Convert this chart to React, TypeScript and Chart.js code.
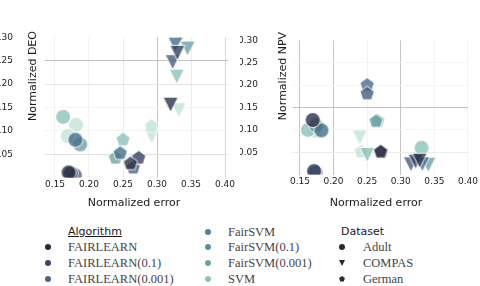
import React, { useEffect, useRef } from 'react';
import { Chart, registerables } from 'chart.js';
Chart.register(...registerables);

const ALGORITHMS = ['FAIRLEARN', 'FAIRLEARN(0.1)', 'FAIRLEARN(0.001)', 'FairSVM', 'FairSVM(0.1)', 'FairSVM(0.001)', 'SVM'];
const DATASETS = ['Adult', 'COMPAS', 'German'];
const X_TICKS = [0.15, 0.2, 0.25, 0.3, 0.35, 0.4];
const Y_TICKS = [0.05, 0.1, 0.15, 0.2, 0.25, 0.3];

// [normalized error, metric value, dataset index (0 Adult, 1 COMPAS, 2 German)]
const DEO_FAIRLEARN = [[0.170, 0.011, 0], [0.320, 0.156, 1], [0.261, 0.030, 2]];
const DEO_FAIRLEARN_01 = [[0.173, 0.009, 0], [0.330, 0.267, 1], [0.273, 0.042, 2]];
const DEO_FAIRLEARN_0001 = [[0.179, 0.005, 0], [0.323, 0.247, 1], [0.265, 0.021, 2]];
const DEO_FAIRSVM = [[0.180, 0.081, 0], [0.327, 0.285, 1], [0.246, 0.052, 2]];
const DEO_FAIRSVM_01 = [[0.187, 0.071, 0], [0.345, 0.276, 1], [0.239, 0.042, 2]];
const DEO_FAIRSVM_0001 = [[0.162, 0.130, 0], [0.329, 0.216, 1], [0.335, 0.303, 1], [0.250, 0.081, 2]];
const DEO_SVM = [[0.181, 0.113, 0], [0.169, 0.089, 0], [0.332, 0.144, 1], [0.292, 0.088, 1], [0.292, 0.110, 2]];

const NPV_FAIRLEARN = [[0.169, 0.122, 0], [0.328, 0.031, 1], [0.270, 0.051, 2]];
const NPV_FAIRLEARN_01 = [[0.171, 0.008, 0], [0.322, 0.029, 1], [0.271, 0.050, 2]];
const NPV_FAIRLEARN_0001 = [[0.173, 0.005, 0], [0.315, 0.023, 1], [0.250, 0.181, 2]];
const NPV_FAIRSVM = [[0.182, 0.099, 0], [0.332, 0.023, 1], [0.250, 0.200, 2]];
const NPV_FAIRSVM_01 = [[0.174, 0.110, 0], [0.341, 0.022, 1], [0.263, 0.119, 2]];
const NPV_FAIRSVM_0001 = [[0.162, 0.100, 0], [0.331, 0.060, 0], [0.250, 0.044, 1], [0.266, 0.120, 2]];
const NPV_SVM = [[0.172, 0.098, 0], [0.239, 0.083, 1], [0.241, 0.051, 2]];

const DEO_SERIES = [DEO_FAIRLEARN, DEO_FAIRLEARN_01, DEO_FAIRLEARN_0001, DEO_FAIRSVM, DEO_FAIRSVM_01, DEO_FAIRSVM_0001, DEO_SVM];
const NPV_SERIES = [NPV_FAIRLEARN, NPV_FAIRLEARN_01, NPV_FAIRLEARN_0001, NPV_FAIRSVM, NPV_FAIRSVM_01, NPV_FAIRSVM_0001, NPV_SVM];

const POINT_COLORS = [
  'rgba(43,49,71,0.8)',
  'rgba(53,63,96,0.8)',
  'rgba(71,93,129,0.8)',
  'rgba(70,110,136,0.8)',
  'rgba(100,154,160,0.75)',
  'rgba(136,190,181,0.75)',
  'rgba(195,226,219,0.8)',
];
const LEGEND_COLORS = ['#262b3f', '#3c4664', '#4e6280', '#5a7e95', '#5e909e', '#6ea5a4', '#8fc2bb'];

function shapePath(ctx: CanvasRenderingContext2D, shape: number, cx: number, cy: number, r: number) {
  ctx.beginPath();
  if (shape === 0) {
    ctx.arc(cx, cy, r, 0, Math.PI * 2);
  } else if (shape === 1) {
    ctx.moveTo(cx - r, cy - r);
    ctx.lineTo(cx + r, cy - r);
    ctx.lineTo(cx, cy + r);
    ctx.closePath();
  } else {
    for (let i = 0; i < 5; i++) {
      const a = -Math.PI / 2 + (i * 2 * Math.PI) / 5;
      const px = cx + r * Math.cos(a);
      const py = cy + r * Math.sin(a);
      if (i === 0) ctx.moveTo(px, py);
      else ctx.lineTo(px, py);
    }
    ctx.closePath();
  }
}

function makeMarker(shape: number, color: string, r: number) {
  const c = document.createElement('canvas');
  c.width = 20;
  c.height = 20;
  const ctx = c.getContext('2d')!;
  shapePath(ctx, shape, 10, 10, r);
  ctx.fillStyle = color;
  ctx.fill();
  ctx.strokeStyle = 'rgba(255,255,255,0.9)';
  ctx.lineWidth = 1;
  ctx.stroke();
  return c;
}

const axisTitles = {
  id: 'axisTitles',
  afterDraw(chart: any, _args: any, opts: any) {
    const ctx = chart.ctx;
    ctx.save();
    ctx.font = '11px "DejaVu Sans"';
    ctx.fillStyle = '#1a1a1a';
    ctx.textAlign = 'center';
    ctx.textBaseline = 'middle';
    ctx.fillText(opts.xTitle, opts.xX, opts.xY);
    ctx.translate(opts.yX, opts.yY);
    ctx.rotate(-Math.PI / 2);
    ctx.fillText(opts.yTitle, 0, 0);
    ctx.restore();
  },
};

type PanelProps = {
  series: number[][][];
  yTitle: string;
  xMin: number;
  xMax: number;
  yAxisWidth: number;
  labelPad: number;
  padRight: number;
  xGrid: string[];
  yGrid: string[];
  xTitleX: number;
  yTitleX: number;
};

function Panel(p: PanelProps) {
  const ref = useRef<HTMLCanvasElement>(null);
  useEffect(() => {
    const markers = POINT_COLORS.map((col) => [0, 1, 2].map((s) => makeMarker(s, col, 7.5)));
    const chart = new Chart(ref.current!, {
      type: 'scatter',
      data: {
        datasets: ALGORITHMS.map((name, i) => ({
          label: name,
          data: p.series[i].map((d) => ({ x: d[0], y: d[1], s: d[2] })),
          pointStyle: (ctx: any) => markers[i][ctx.raw ? ctx.raw.s : 0],
          pointRadius: 7.5,
          clip: 0,
        })),
      } as any,
      options: {
        animation: false,
        responsive: false,
        events: [],
        layout: { padding: { top: 4, right: p.padRight, left: 0, bottom: 0 } },
        plugins: {
          legend: { display: false },
          tooltip: { enabled: false },
          axisTitles: {
            xTitle: 'Normalized error',
            xX: p.xTitleX,
            xY: 203,
            yTitle: p.yTitle,
            yX: p.yTitleX,
            yY: 76,
          },
        } as any,
        scales: {
          x: {
            type: 'linear',
            min: p.xMin,
            max: p.xMax,
            afterBuildTicks: (s: any) => {
              s.ticks = X_TICKS.map((v) => ({ value: v }));
            },
            afterFit: (s: any) => {
              s.height = 36;
            },
            border: { display: false },
            grid: {
              drawTicks: false,
              color: (c: any) => p.xGrid[X_TICKS.indexOf(c.tick.value)] || 'rgba(0,0,0,0)',
              lineWidth: 1,
            },
            ticks: {
              padding: 2,
              color: '#222',
              font: { family: 'DejaVu Sans', size: 9 },
              callback: (v: any) => Number(v).toFixed(2),
            },
          },
          y: {
            type: 'linear',
            min: 0,
            max: 0.3,
            afterBuildTicks: (s: any) => {
              s.ticks = Y_TICKS.map((v) => ({ value: v }));
            },
            afterFit: (s: any) => {
              s.width = p.yAxisWidth;
            },
            border: { display: false },
            grid: {
              drawTicks: false,
              color: (c: any) => p.yGrid[Y_TICKS.indexOf(c.tick.value)] || 'rgba(0,0,0,0)',
              lineWidth: 1,
            },
            ticks: {
              padding: p.labelPad,
              color: '#222',
              font: { family: 'DejaVu Sans', size: 9 },
              callback: (v: any) => Number(v).toFixed(2),
            },
          },
        },
      },
      plugins: [axisTitles],
    });
    return () => chart.destroy();
  }, []);
  return <canvas ref={ref} width={240} height={215} style={{ display: 'block', width: 240, height: 215 }} />;
}

function LegendMarker({ shape, color, x, y }: { shape: number; color: string; x: number; y: number }) {
  const r = 3;
  let el: any;
  if (shape === 0) el = <circle cx={5} cy={5} r={r} fill={color} />;
  else if (shape === 1) el = <polygon points={`${5 - r},${5 - r} ${5 + r},${5 - r} 5,${5 + r}`} fill={color} />;
  else {
    const pts = [0, 1, 2, 3, 4]
      .map((i) => {
        const a = -Math.PI / 2 + (i * 2 * Math.PI) / 5;
        return `${5 + r * Math.cos(a)},${5 + r * Math.sin(a)}`;
      })
      .join(' ');
    el = <polygon points={pts} fill={color} />;
  }
  return (
    <svg width={10} height={10} style={{ position: 'absolute', left: x - 5, top: y - 5 }}>
      {el}
    </svg>
  );
}

function Label({ text, x, y, serif, underline }: { text: string; x: number; y: number; serif?: boolean; underline?: boolean }) {
  return (
    <div
      style={{
        position: 'absolute',
        left: x,
        top: y - 8,
        height: 16,
        lineHeight: '16px',
        whiteSpace: 'nowrap',
        fontFamily: serif ? '"Liberation Serif"' : '"DejaVu Sans"',
        fontSize: serif ? 12.5 : 11,
        color: serif ? '#444' : '#1a1a1a',
        textDecoration: underline ? 'underline' : 'none',
      }}
    >
      {text}
    </div>
  );
}

export default function App() {
  const rows = [247, 263, 279];
  const col2 = [232, 247, 263, 279];
  return (
    <div style={{ position: 'fixed', left: 0, top: 0, width: 480, height: 286, background: '#fff', overflow: 'hidden' }}>
      <div style={{ position: 'absolute', left: 0, top: 0 }}>
        <Panel
          series={DEO_SERIES}
          yTitle="Normalized DEO"
          xMin={0.1353}
          xMax={0.4044}
          yAxisWidth={45}
          labelPad={32}
          padRight={12}
          xGrid={['#f3f3f3', '#f3f3f3', '#ececec', '#c4c4c4', '#ececec', '#d6d6d6']}
          yGrid={['#e2e2e2', '#f3f3f3', '#f3f3f3', '#e6e6e6', '#c4c4c4', 'rgba(0,0,0,0)']}
          xTitleX={134}
          yTitleX={33}
        />
      </div>
      <div style={{ position: 'absolute', left: 240, top: 0 }}>
        <Panel
          series={NPV_SERIES}
          yTitle="Normalized NPV"
          xMin={0.1397}
          xMax={0.4003}
          yAxisWidth={53}
          labelPad={35}
          padRight={10}
          xGrid={['#c4c4c4', '#c4c4c4', '#f3f3f3', '#c4c4c4', '#f3f3f3', '#f3f3f3']}
          yGrid={['#ececec', '#f5f5f5', '#c4c4c4', '#f5f5f5', '#f5f5f5', 'rgba(0,0,0,0)']}
          xTitleX={136}
          yTitleX={43}
        />
      </div>
      <Label text="Algorithm" x={68} y={232} underline />
      {ALGORITHMS.slice(0, 3).map((a, i) => (
        <React.Fragment key={a}>
          <LegendMarker shape={0} color={LEGEND_COLORS[i]} x={48} y={rows[i]} />
          <Label text={a} x={68} y={rows[i]} serif />
        </React.Fragment>
      ))}
      {ALGORITHMS.slice(3).map((a, i) => (
        <React.Fragment key={a}>
          <LegendMarker shape={0} color={LEGEND_COLORS[i + 3]} x={208} y={col2[i]} />
          <Label text={a} x={228} y={col2[i]} serif />
        </React.Fragment>
      ))}
      <Label text="Dataset" x={341} y={232} />
      {DATASETS.map((d, i) => (
        <React.Fragment key={d}>
          <LegendMarker shape={i} color="#2a2a2a" x={342} y={rows[i]} />
          <Label text={d} x={363} y={rows[i]} serif />
        </React.Fragment>
      ))}
    </div>
  );
}
